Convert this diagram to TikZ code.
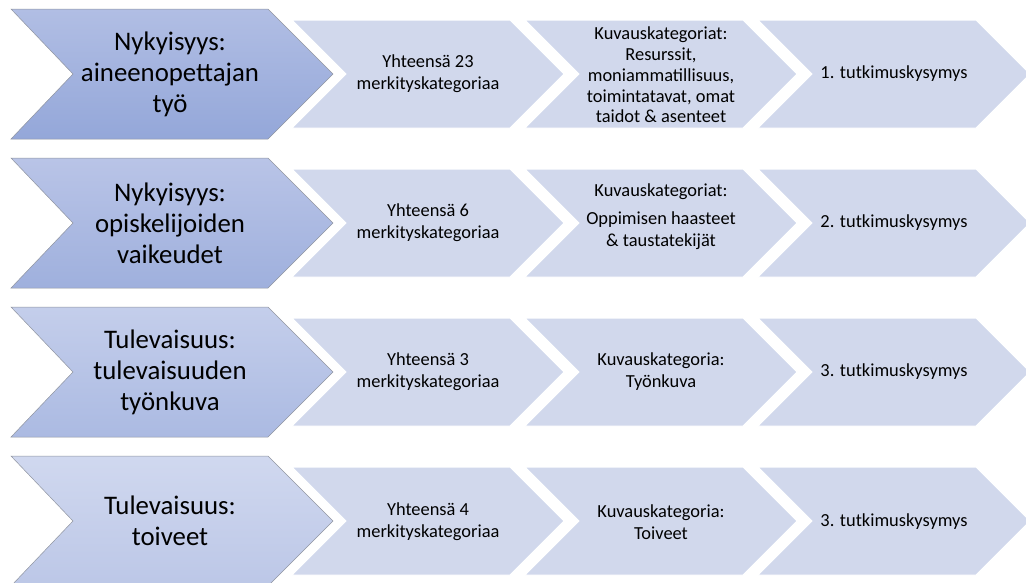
\documentclass[tikz,border=0pt]{standalone}
\usepackage{fontspec}
\setmainfont{Carlito}
\definecolor{rAt}{HTML}{B1BEE4}\definecolor{rAb}{HTML}{94A7D9}
\definecolor{rBt}{HTML}{B9C4E7}\definecolor{rBb}{HTML}{9FB0DD}
\definecolor{rCt}{HTML}{C4CEEB}\definecolor{rCb}{HTML}{ABBAE2}
\definecolor{rDt}{HTML}{D0D8EF}\definecolor{rDb}{HTML}{BCC7E7}
\definecolor{smallfill}{HTML}{D1D8EC}
\definecolor{edgegray}{HTML}{9095A0}
\tikzset{
  bigtext/.style={align=center,font=\fontsize{26.8}{31}\selectfont,text=black},
  smalltext/.style={align=center,font=\fontsize{18.4}{22}\selectfont,text=black},
  smallchev/.style={fill=smallfill,draw=white,line width=1pt},
  bigchev/.style={draw=edgegray,line width=0.5pt}
}
\begin{document}
\begin{tikzpicture}[x=1pt,y=-1pt]
\useasboundingbox (0,0) rectangle (1026,582);
\clip (0,0) rectangle (1026,582);
% rows
\foreach \c/\tc/\bc [count=\i] in {74/rAt/rAb,223/rBt/rBb,372/rCt/rCb,521/rDt/rDb}{
  \shade[bigchev,top color=\tc,bottom color=\bc]
    (11,\c-65) -- (268,\c-65) -- (333,\c) -- (268,\c+65) -- (11,\c+65) -- (73,\c) -- cycle;
  \foreach \L in {292,525,758}{
    \path[smallchev] (\L,\c-54) -- (\L+218,\c-54) -- (\L+272,\c) -- (\L+218,\c+54) -- (\L,\c+54) -- (\L+54,\c) -- cycle;
  }
}
% big texts
\node[bigtext] (b1) at (170,74) {Nykyisyys:\\aineenopettajan\\työ};
\node[bigtext] (b2) at (170,223) {Nykyisyys:\\opiskelijoiden\\vaikeudet};
\node[bigtext] (b3) at (170,372) {Tulevaisuus:\\tulevaisuuden\\työnkuva};
\node[bigtext] (b4) at (170,521) {Tulevaisuus:\\toiveet};
% column 1
\node[smalltext] (a1) at (428,74) {Yhteensä 23\\merkityskategoriaa};
\node[smalltext] (a2) at (428,223) {Yhteensä 6\\merkityskategoriaa};
\node[smalltext] (a3) at (428,372) {Yhteensä 3\\merkityskategoriaa};
\node[smalltext] (a4) at (428,522) {Yhteensä 4\\merkityskategoriaa};
% column 2
\node[smalltext,font=\fontsize{18.4}{20.7}\selectfont] (k1) at (661,75) {Kuvauskategoriat:\\Resurssit,\\moniammatillisuus,\\toimintatavat, omat\\taidot \& asenteet};
\node[smalltext] (k2) at (661,217) {Kuvauskategoriat:\\[6pt]Oppimisen haasteet\\\& taustatekijät};
\node[smalltext] (k3) at (661,372) {Kuvauskategoria:\\Työnkuva};
\node[smalltext] (k4) at (661,522) {Kuvauskategoria:\\Toiveet};
% column 3
\node[smalltext] (t1) at (894,74) {1. tutkimuskysymys};
\node[smalltext] (t2) at (894,223) {2. tutkimuskysymys};
\node[smalltext] (t3) at (894,372) {3. tutkimuskysymys};
\node[smalltext] (t4) at (894,522) {3. tutkimuskysymys};
\end{tikzpicture}
\end{document}
